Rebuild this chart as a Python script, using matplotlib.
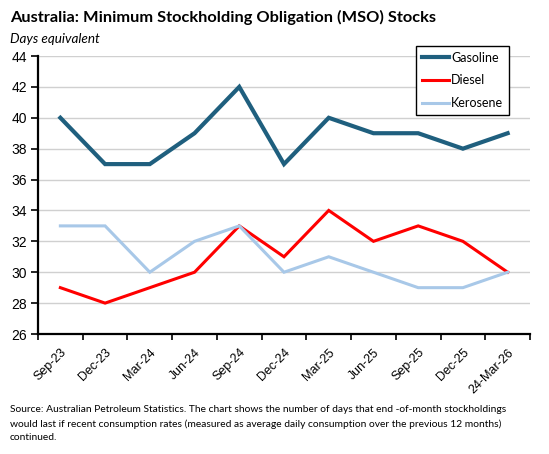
import matplotlib
matplotlib.use("Agg")
import matplotlib.pyplot as plt
import numpy as np

categories = ["Sep-23", "Dec-23", "Mar-24", "Jun-24", "Sep-24", "Dec-24",
              "Mar-25", "Jun-25", "Sep-25", "Dec-25", "24-Mar-26"]
gasoline = [40, 37, 37, 39, 42, 37, 40, 39, 39, 38, 39]
diesel = [29, 28, 29, 30, 33, 31, 34, 32, 33, 32, 30]
kerosene = [33, 33, 30, 32, 33, 30, 31, 30, 29, 29, 30]
yticks = [26, 28, 30, 32, 34, 36, 38, 40, 42, 44]

plt.rcParams['font.family'] = ['Lato', 'DejaVu Sans']

W, H = 549, 454
fig = plt.figure(figsize=(W/100, H/100), dpi=100)
L, R, T, B = 38, 530, 56, 334
ax = fig.add_axes([L/W, 1-B/H, (R-L)/W, (B-T)/H])

x = np.arange(len(categories))
ax.plot(x, gasoline, color="#1F5F7E", lw=3, label="Gasoline", solid_joinstyle="miter")
ax.plot(x, diesel, color="#FF0000", lw=2.2, label="Diesel", solid_joinstyle="miter")
ax.plot(x, kerosene, color="#A8C8E8", lw=2.2, label="Kerosene", solid_joinstyle="miter")

ax.set_xlim(-0.5, len(categories) - 0.5)
ax.set_ylim(26, 44)
ax.set_yticks(yticks)
ax.set_yticklabels([str(v) for v in yticks], fontsize=10, family=["Liberation Sans"])
ax.set_xticks(x)
ax.set_xticklabels(categories, rotation=45, ha="right", rotation_mode="anchor",
                   fontsize=9, family=["Liberation Sans"])
ax.set_xticks(np.arange(-0.5, len(categories), 1), minor=True)
ax.tick_params(axis="x", which="major", length=0, pad=9)
ax.tick_params(axis="x", which="minor", length=4, width=1.2, direction="out")
ax.tick_params(axis="y", length=5, width=1.2, direction="out", pad=3)

ax.grid(axis="y", color="#D0D0D0", lw=1)
ax.set_axisbelow(True)
for s in ["top", "right"]:
    ax.spines[s].set_visible(False)
ax.spines["left"].set_linewidth(1.6)
ax.spines["bottom"].set_linewidth(1.6)

leg = ax.legend(loc="upper left", bbox_to_anchor=(416/W, 1-46/H),
                bbox_transform=fig.transFigure, borderaxespad=0,
                fancybox=False, frameon=True, framealpha=1,
                edgecolor="black", fontsize=9, handlelength=2.2,
                handletextpad=0.15, labelspacing=0.85, borderpad=0.45)
leg.get_frame().set_linewidth(1.0)

fig.text(10/W, 1-17/H, "Australia: Minimum Stockholding Obligation (MSO) Stocks",
         fontsize=11.8, fontweight="bold", va="center", ha="left")
fig.text(10/W, 1-39/H, "Days equivalent", fontsize=9.7, style="italic",
         va="center", ha="left")
fig.text(10/W, 1-405/H,
         "Source: Australian Petroleum Statistics. The chart shows the number of days that end -of-month stockholdings\n"
         "would last if recent consumption rates (measured as average daily consumption over the previous 12 months)\n"
         "continued.",
         fontsize=7.4, va="top", ha="left", linespacing=1.68)

fig.savefig("out.png", dpi=100)
